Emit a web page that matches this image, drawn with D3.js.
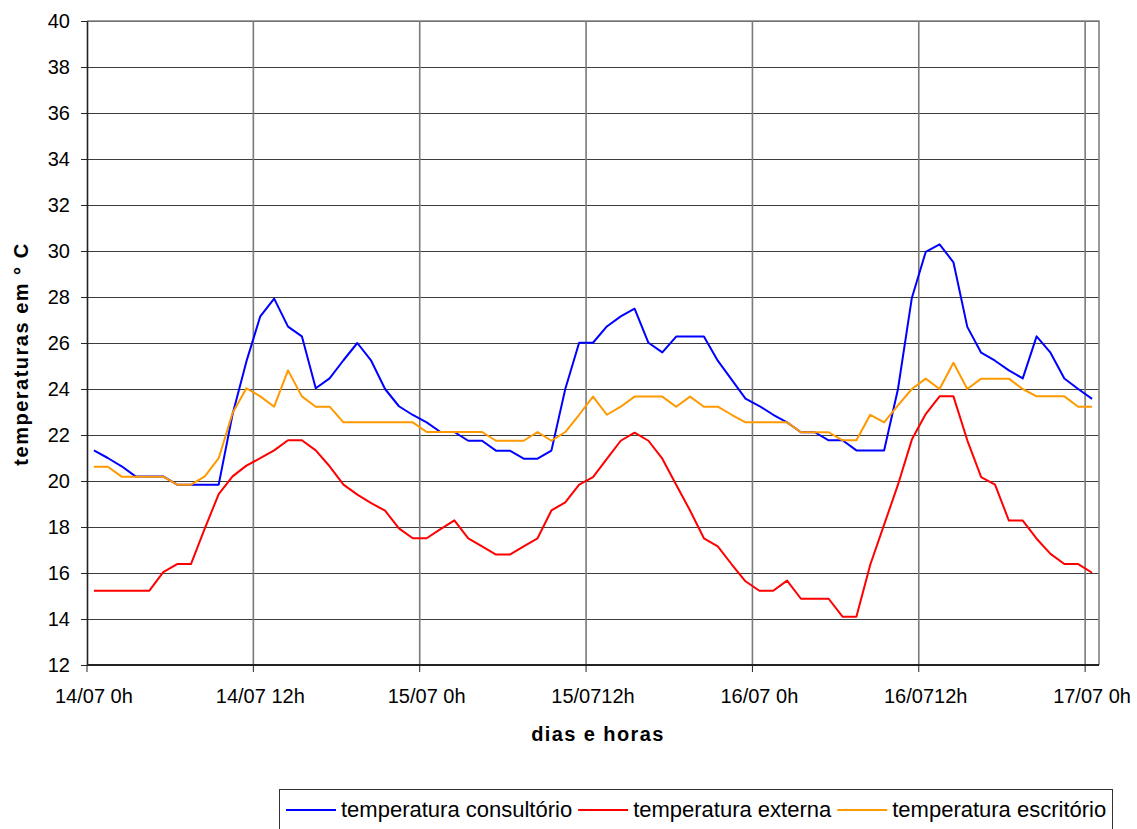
<!DOCTYPE html>
<html>
<head>
<meta charset="utf-8">
<script src="https://cdn.jsdelivr.net/npm/d3@7"></script>
<style>
    body { margin: 0; background: #fff; }
    svg { display: block; }
    text { font-family: "Liberation Sans", Arial, sans-serif; fill: #000; }
</style>
</head>
<body>
<div id="chart"></div>
<script>
// hourly readings, 14/07 0h .. 17/07 0h (73 categories)
const hours = d3.range(73);
const tickLabels = ["14/07 0h", "14/07 12h", "15/07 0h", "15/0712h", "16/07 0h", "16/0712h", "17/07 0h"];
const yTicks = [12, 14, 16, 18, 20, 22, 24, 26, 28, 30, 32, 34, 36, 38, 40];

const consultorio = [
    21.33, 21.0, 20.64, 20.2, 20.2, 20.2, 19.84, 19.84, 19.84, 19.84,
    22.9, 25.2, 27.16, 27.93, 26.71, 26.29, 24.03, 24.46, 25.25, 26.0,
    25.23, 24.0, 23.25, 22.87, 22.55, 22.13, 22.13, 21.75, 21.75, 21.32,
    21.32, 20.97, 20.97, 21.32, 24.0, 26.01, 26.01, 26.72, 27.16, 27.49,
    26.01, 25.59, 26.28, 26.28, 26.28, 25.23, 24.41, 23.58, 23.26, 22.88,
    22.55, 22.12, 22.12, 21.77, 21.77, 21.33, 21.33, 21.33, 24.0, 27.96,
    29.96, 30.29, 29.51, 26.7, 25.58, 25.23, 24.81, 24.46, 26.29, 25.58,
    24.46, 24.0, 23.57
];
const externa = [
    15.23, 15.23, 15.23, 15.23, 15.23, 16.04, 16.39, 16.39, 17.94, 19.43,
    20.2, 20.67, 20.99, 21.33, 21.77, 21.77, 21.33, 20.64, 19.84, 19.41,
    19.04, 18.71, 17.94, 17.51, 17.51, 17.91, 18.29, 17.51, 17.16, 16.8,
    16.8, 17.16, 17.51, 18.72, 19.07, 19.84, 20.17, 20.96, 21.75, 22.1,
    21.75, 20.97, 19.84, 18.72, 17.51, 17.16, 16.38, 15.64, 15.23, 15.23,
    15.67, 14.88, 14.88, 14.88, 14.1, 14.1, 16.36, 18.1, 19.84, 21.8,
    22.91, 23.68, 23.68, 21.77, 20.17, 19.84, 18.28, 18.28, 17.49, 16.83,
    16.39, 16.39, 16.01
];
const escritorio = [
    20.62, 20.62, 20.19, 20.19, 20.19, 20.19, 19.84, 19.84, 20.2, 20.99,
    22.96, 24.03, 23.68, 23.23, 24.81, 23.68, 23.23, 23.23, 22.55, 22.55,
    22.55, 22.55, 22.55, 22.55, 22.13, 22.13, 22.13, 22.13, 22.13, 21.75,
    21.75, 21.75, 22.13, 21.75, 22.13, 22.88, 23.67, 22.88, 23.23, 23.67,
    23.67, 23.67, 23.23, 23.67, 23.23, 23.23, 22.88, 22.55, 22.55, 22.55,
    22.55, 22.12, 22.12, 22.12, 21.77, 21.77, 22.88, 22.55, 23.29, 24.0,
    24.45, 24.0, 25.14, 24.0, 24.45, 24.45, 24.45, 24.0, 23.68, 23.68,
    23.68, 23.23, 23.23
];

const seriesNames = ["temperatura consultório", "temperatura externa", "temperatura escritório"];
const seriesColors = ["#0000ff", "#ff0000", "#ff9900"];
const seriesValues = [consultorio, externa, escritorio];

const width = 1137;
const height = 829;
const plot = { left: 87, right: 1099, top: 21, bottom: 665 };

const svg = d3.select("#chart")
    .append("svg")
    .attr("width", width)
    .attr("height", height);

// category axis: gridlines sit between categories, points at band centres
const x = d3.scaleBand()
    .domain(hours)
    .range([plot.left, plot.right])
    .paddingInner(0)
    .paddingOuter(0);
const xc = i => x(i) + x.bandwidth() / 2;

const y = d3.scaleLinear()
    .domain([12, 40])
    .range([plot.bottom, plot.top]);

const labelHours = tickLabels.map((d, i) => i * 12);

// horizontal gridlines
svg.append("g")
    .selectAll("line")
    .data(yTicks)
    .join("line")
    .attr("x1", plot.left)
    .attr("x2", plot.right)
    .attr("y1", d => Math.round(y(d)) + 0.5)
    .attr("y2", d => Math.round(y(d)) + 0.5)
    .attr("stroke", "#3c3c3c")
    .attr("stroke-width", 1);

// vertical gridlines every 12 hours
svg.append("g")
    .selectAll("line")
    .data(labelHours.slice(1))
    .join("line")
    .attr("x1", d => x(d))
    .attr("x2", d => x(d))
    .attr("y1", plot.top)
    .attr("y2", plot.bottom)
    .attr("stroke", "#7a7a7a")
    .attr("stroke-width", 1.6);

// plot border (top / right in grey)
svg.append("path")
    .attr("d", `M${plot.left},${plot.top}H${plot.right}V${plot.bottom}`)
    .attr("fill", "none")
    .attr("stroke", "#808080")
    .attr("stroke-width", 1.6);

// y axis
const yAxis = svg.append("g")
    .attr("transform", `translate(${plot.left},0)`)
    .call(d3.axisLeft(y).tickValues(yTicks).tickSize(6).tickPadding(11).tickSizeOuter(0));
yAxis.select(".domain").attr("stroke", "#222").attr("stroke-width", 1.6);
yAxis.selectAll(".tick line").attr("stroke", "#222");
yAxis.selectAll(".tick text")
    .attr("font-size", "20px")
    .attr("font-family", "Liberation Sans, Arial, sans-serif");

// x axis: ticks at category boundaries, labels centred on categories
const xAxis = svg.append("g");
xAxis.append("line")
    .attr("x1", plot.left)
    .attr("x2", plot.right)
    .attr("y1", plot.bottom)
    .attr("y2", plot.bottom)
    .attr("stroke", "#222")
    .attr("stroke-width", 1.8);
xAxis.selectAll("line.tick")
    .data(labelHours)
    .join("line")
    .attr("class", "tick")
    .attr("x1", d => x(d))
    .attr("x2", d => x(d))
    .attr("y1", plot.bottom)
    .attr("y2", plot.bottom + 7)
    .attr("stroke", "#222");
xAxis.selectAll("text")
    .data(tickLabels)
    .join("text")
    .attr("x", (d, i) => xc(labelHours[i]))
    .attr("y", plot.bottom + 38)
    .attr("text-anchor", "middle")
    .attr("font-size", "20px")
    .text(d => d);

// axis titles
svg.append("text")
    .attr("x", 598)
    .attr("y", 741)
    .attr("text-anchor", "middle")
    .attr("font-size", "20px")
    .attr("font-weight", "bold")
    .attr("letter-spacing", "1.4px")
    .text("dias e horas");

svg.append("text")
    .attr("transform", "translate(28,354) rotate(-90)")
    .attr("text-anchor", "middle")
    .attr("font-size", "20px")
    .attr("font-weight", "bold")
    .attr("letter-spacing", "1.5px")
    .text("temperaturas em ° C");

// series lines
const line = d3.line()
    .x((d, i) => xc(i))
    .y(d => y(d));

svg.append("g")
    .selectAll("path")
    .data(seriesValues)
    .join("path")
    .attr("d", d => line(d))
    .attr("fill", "none")
    .attr("stroke", (d, i) => seriesColors[i])
    .attr("stroke-width", 2)
    .attr("stroke-linejoin", "round");

// legend
const legend = svg.append("g");
legend.append("rect")
    .attr("x", 279.5)
    .attr("y", 789.5)
    .attr("width", 833)
    .attr("height", 60)
    .attr("fill", "#fff")
    .attr("stroke", "#333")
    .attr("stroke-width", 1);

let lx = 286;
seriesNames.forEach((name, i) => {
    legend.append("line")
        .attr("x1", lx)
        .attr("x2", lx + 50)
        .attr("y1", 810)
        .attr("y2", 810)
        .attr("stroke", seriesColors[i])
        .attr("stroke-width", 2);
    const t = legend.append("text")
        .attr("x", lx + 55)
        .attr("y", 817)
        .attr("font-size", "22px")
        .text(name);
    lx += 55 + t.node().getComputedTextLength() + 6;
});
</script>
</body>
</html>
